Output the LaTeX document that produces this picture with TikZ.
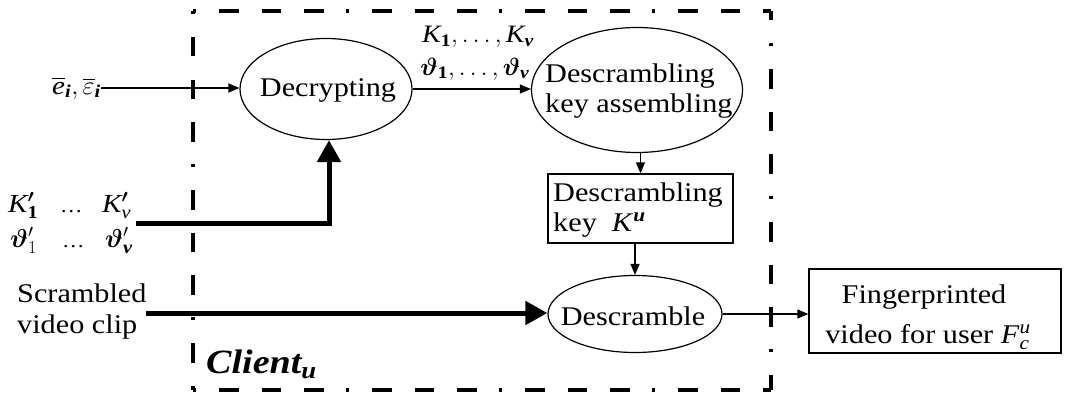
\documentclass[tikz,border=0pt]{standalone}
\usepackage{fix-cm}
\usepackage{amsmath}
\usepackage{bm}
\usepackage{fontspec}
\setmainfont[FakeStretch=1.12]{Liberation Serif}
\usetikzlibrary{arrows.meta,shapes.geometric}

\newcommand{\vi}[1]{\textit{#1}}
\newcommand{\vbi}[1]{\textbf{\textit{#1}}}
\newcommand{\fewdots}{{\fontsize{20}{20}\selectfont\textellipsis}}

\tikzset{
  txt/.style={inner sep=0pt, font=\fontsize{27}{30}\selectfont, anchor=base west},
  sym/.style={inner sep=0pt, font=\fontsize{25}{28}\selectfont},
  proc/.style={ellipse, draw, line width=1.2pt, inner sep=0pt},
  store/.style={rectangle, draw, line width=1.3pt, inner sep=0pt},
  flow/.style={line width=1.3pt, -{Triangle[length=11pt,width=9pt]}},
  bulk/.style={line width=5pt, -{Triangle[length=22pt,width=23pt]}},
  frame/.style={line width=3.8pt,
    dash pattern=on 3pt off 23pt on 19.5pt off 23pt on 19.5pt off 23pt on 19.5pt off 22.5pt},
}

\begin{document}
\begin{tikzpicture}[x=1pt,y=-1pt]
\useasboundingbox (0,0) rectangle (1067,396);

% client boundary
\coordinate (ftl) at (193,11);
\coordinate (ftr) at (771,11);
\coordinate (fbl) at (193,390);
\coordinate (fbr) at (771,390);
\draw[frame] (ftl) -- (ftr);
\draw[frame] (ftl) -- (fbl);
\draw[frame] (fbl) -- (fbr);
\draw[frame, dash phase=121pt] (ftr) -- (fbr);

% processing stages
\node[proc, minimum width=172pt, minimum height=101pt] (dec) at (326,89) {};
\node[txt, anchor=base] (dect) at (328,96) {Decrypting};

\node[proc, minimum width=211pt, minimum height=125pt] (dka) at (637,90) {};
\node[txt] (dka1) at (545,82) {Descrambling};
\node[txt] (dka2) at (545,112) {key assembling};

\node[store, minimum width=185pt, minimum height=69pt] (dkey) at (640.5,208.5) {};
\node[txt] (dkey1) at (553,201.5) {Descrambling};
\node[txt] (dkey2) at (553,231.5) {key\hspace{15pt}\vi{K}$^{\vbi{u}}$};

\node[proc, minimum width=174pt, minimum height=77pt] (desc) at (635,314) {};
\node[txt, anchor=base] (desct) at (633,325) {Descramble};

\node[store, minimum width=252pt, minimum height=84pt] (fp) at (935,311) {};
\node[txt, anchor=base] (fp1) at (924,303) {Fingerprinted};
\node[txt, anchor=base] (fp2) at (928,343) {video for user \vi{F}$_{\vi{c}}^{\vi{u}}$};

% inputs
\node[sym, font=\fontsize{26}{28}\selectfont, anchor=east] (ein) at (101,88)
  {$\overline{\vi{e}}_{\vbi{i}},\overline{\varepsilon}_{\vbi{i}}$};

\node[sym, anchor=base] (kl) at (478,43) {$\vi{K}_{\textbf{1}},\ldots,\vi{K}_{\vbi{v}}$};
\node[sym, anchor=base] (tl) at (475,75) {$\bm{\vartheta}_{\textbf{1}},\ldots,\bm{\vartheta}_{\vbi{v}}$};

\node[sym, font=\fontsize{26}{28}\selectfont, anchor=base west] (kp1) at (8,212)
  {\makebox[52pt][l]{$\vi{K}^{\bm{\prime}}_{\textbf{1}}$}\makebox[42pt][l]{\fewdots}$\vi{K}^{\bm{\prime}}_{\vi{v}}$};
\node[sym, font=\fontsize{26}{28}\selectfont, anchor=base west] (kp2) at (10,247)
  {\makebox[52pt][l]{$\bm{\vartheta}'_{1}$}\makebox[43pt][l]{\fewdots}$\bm{\vartheta}'_{\vbi{v}}$};
\coordinate (kpin) at (136,223);

\node[txt] (scr1) at (17,302) {Scrambled};
\node[txt] (scr2) at (17,333) {video clip};
\coordinate (scrin) at (146,313);

\node[inner sep=0pt, anchor=base west, font=\fontsize{34}{36}\selectfont\bfseries\itshape]
  (cl) at (206,373) {Client$_{\vbi{u}}$};

% connectors
\draw[flow] (ein.east) -- (ein.east -| dec.west);
\draw[flow] (dec.east) -- (dec.east -| dka.west);
\draw[bulk] (kpin) -| ([xshift=3pt]dec.south);
\draw[bulk] (scrin) -- (scrin -| desc.west);
\draw[flow] (dkey.north |- dka.south) -- (dkey.north);
\draw[flow] (desc.north |- dkey.south) -- (desc.north);
\draw[flow] (desc.east) -- (desc.east -| fp.west);
\end{tikzpicture}
\end{document}
